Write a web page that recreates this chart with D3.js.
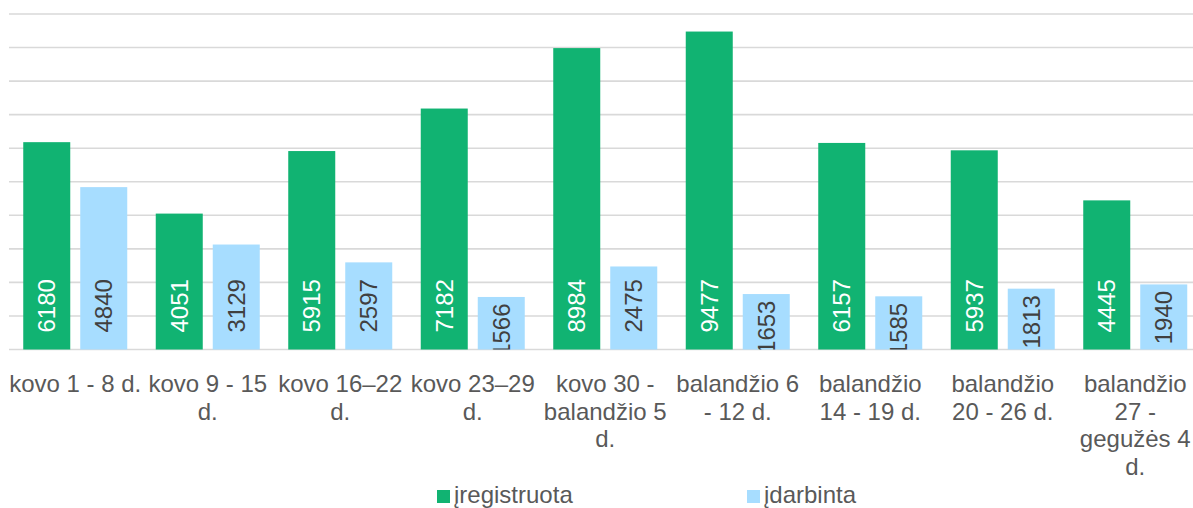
<!DOCTYPE html>
<meta charset="utf-8">
<head>
  <script src="https://cdn.jsdelivr.net/npm/d3@7"></script>
</head>
<style>
  body { margin: 0; background: #fff; }
  text { font-family: "Liberation Sans", Arial, sans-serif; }
</style>
<body></body>
<script>
var categories = ["kovo 1 - 8 d.", "kovo 9 - 15 d.", "kovo 16–22 d.", "kovo 23–29 d.",
  "kovo 30 - balandžio 5 d.", "balandžio 6 - 12 d.", "balandžio 14 - 19 d.",
  "balandžio 20 - 26 d.", "balandžio 27 - gegužės 4 d."];
var seriesNames = ["įregistruota", "įdarbinta"];
var registered = [6180, 4051, 5915, 7182, 8984, 9477, 6157, 5937, 4445];
var employed = [4840, 3129, 2597, 1566, 2475, 1653, 1585, 1813, 1940];
var gridTicks = [0, 1000, 2000, 3000, 4000, 5000, 6000, 7000, 8000, 9000, 10000];

var colors = ["#11b372", "#a7ddff"];
var labelColors = ["#ffffff", "#404040"];

var width = 1193, height = 508;
var plotLeft = 9, plotRight = 1201.5, plotTop = 14, plotBase = 349.5;

var svg = d3.select("body").append("svg")
    .attr("width", width)
    .attr("height", height);

var y = d3.scaleLinear().domain([0, 10000]).range([plotBase, plotTop]);
var x0 = d3.scaleBand().domain(categories).range([plotLeft, plotRight]);
var x1 = d3.scaleBand().domain(seriesNames).range([0, x0.bandwidth()])
    .paddingInner(0.1754).paddingOuter(0.25);

// gridlines
svg.append("g").selectAll("line").data(gridTicks).enter().append("line")
    .attr("x1", plotLeft).attr("x2", width)
    .attr("y1", function(d) { return y(d); })
    .attr("y2", function(d) { return y(d); })
    .attr("stroke", "#d9d9d9")
    .attr("stroke-width", 1.6);

var rows = categories.map(function(c, i) {
  return [{ cat: c, s: 0, v: registered[i] }, { cat: c, s: 1, v: employed[i] }];
});
var flat = [].concat.apply([], rows);

svg.append("clipPath").attr("id", "plot")
  .append("rect").attr("x", 0).attr("y", 0).attr("width", width).attr("height", plotBase);

svg.append("g").selectAll("rect").data(flat).enter().append("rect")
    .attr("x", function(d) { return x0(d.cat) + x1(seriesNames[d.s]); })
    .attr("width", x1.bandwidth())
    .attr("y", function(d) { return y(d.v); })
    .attr("height", function(d) { return plotBase - y(d.v); })
    .attr("fill", function(d) { return colors[d.s]; });

// value labels, rotated, near the bar base
var lbl = svg.append("g").attr("clip-path", "url(#plot)");
flat.forEach(function(d) {
  var cx = x0(d.cat) + x1(seriesNames[d.s]) + x1.bandwidth() / 2;
  var t = lbl.append("text")
      .attr("font-size", 24)
      .attr("fill", labelColors[d.s])
      .attr("dy", "0.35em")
      .text(d.v);
  var len = t.node().getComputedTextLength();
  var bottom = Math.max(plotBase - 17, y(d.v) + 6.5 + len);
  t.attr("transform", "translate(" + cx + "," + bottom + ") rotate(-90)");
});

// category labels with wrapping
var maxW = 134;
categories.forEach(function(c) {
  var cx = x0(c) + x0.bandwidth() / 2;
  var t = svg.append("text")
      .attr("font-size", 24)
      .attr("fill", "#595959")
      .attr("text-anchor", "middle");
  var words = c.split(" "), lines = [], cur = "";
  words.forEach(function(w) {
    var test = cur ? cur + " " + w : w;
    t.text(test);
    if (cur && t.node().getComputedTextLength() > maxW) {
      lines.push(cur);
      cur = w;
    } else {
      cur = test;
    }
  });
  lines.push(cur);
  t.text(null);
  lines.forEach(function(l, i) {
    t.append("tspan").attr("x", cx).attr("y", 392 + i * 27.6).text(l);
  });
});

// legend
var legendX = [437, 747];
seriesNames.forEach(function(s, i) {
  svg.append("rect")
      .attr("x", legendX[i]).attr("y", 490)
      .attr("width", 13).attr("height", 13)
      .attr("fill", colors[i]);
  svg.append("text")
      .attr("x", legendX[i] + 17).attr("y", 503)
      .attr("font-size", 24)
      .attr("fill", "#595959")
      .text(s);
});
</script>
